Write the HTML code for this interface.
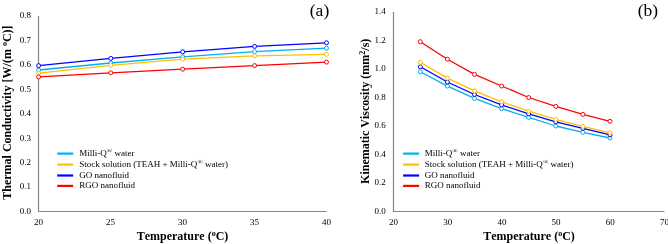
<!DOCTYPE html>
<html><head><meta charset="utf-8"><style>
html,body{margin:0;padding:0;background:#fff;width:668px;height:244px;overflow:hidden}
svg{display:block;will-change:transform} text{font-kerning:none}
</style></head><body>
<svg width="668" height="244" viewBox="0 0 668 244">
<rect width="668" height="244" fill="#fff"/>
<path d="M38.5,16 V211.5 H326.5" fill="none" stroke="#858585" stroke-width="1.2"/>
<path d="M393.5,12 V211.5 H664.5" fill="none" stroke="#858585" stroke-width="1.2"/>
<text x="31.1" y="213.8" text-anchor="end" font-family="Liberation Serif" font-size="9" fill="#000">0.0</text>
<text x="31.1" y="189.4" text-anchor="end" font-family="Liberation Serif" font-size="9" fill="#000">0.1</text>
<text x="31.1" y="164.9" text-anchor="end" font-family="Liberation Serif" font-size="9" fill="#000">0.2</text>
<text x="31.1" y="140.5" text-anchor="end" font-family="Liberation Serif" font-size="9" fill="#000">0.3</text>
<text x="31.1" y="116.0" text-anchor="end" font-family="Liberation Serif" font-size="9" fill="#000">0.4</text>
<text x="31.1" y="91.6" text-anchor="end" font-family="Liberation Serif" font-size="9" fill="#000">0.5</text>
<text x="31.1" y="67.2" text-anchor="end" font-family="Liberation Serif" font-size="9" fill="#000">0.6</text>
<text x="31.1" y="42.7" text-anchor="end" font-family="Liberation Serif" font-size="9" fill="#000">0.7</text>
<text x="31.1" y="18.3" text-anchor="end" font-family="Liberation Serif" font-size="9" fill="#000">0.8</text>
<text x="38.5" y="225" text-anchor="middle" font-family="Liberation Serif" font-size="9" fill="#000">20</text>
<text x="110.5" y="225" text-anchor="middle" font-family="Liberation Serif" font-size="9" fill="#000">25</text>
<text x="182.5" y="225" text-anchor="middle" font-family="Liberation Serif" font-size="9" fill="#000">30</text>
<text x="254.5" y="225" text-anchor="middle" font-family="Liberation Serif" font-size="9" fill="#000">35</text>
<text x="326.5" y="225" text-anchor="middle" font-family="Liberation Serif" font-size="9" fill="#000">40</text>
<text x="385.7" y="213.8" text-anchor="end" font-family="Liberation Serif" font-size="9" fill="#000">0.0</text>
<text x="385.7" y="185.3" text-anchor="end" font-family="Liberation Serif" font-size="9" fill="#000">0.2</text>
<text x="385.7" y="156.8" text-anchor="end" font-family="Liberation Serif" font-size="9" fill="#000">0.4</text>
<text x="385.7" y="128.3" text-anchor="end" font-family="Liberation Serif" font-size="9" fill="#000">0.6</text>
<text x="385.7" y="99.8" text-anchor="end" font-family="Liberation Serif" font-size="9" fill="#000">0.8</text>
<text x="385.7" y="71.3" text-anchor="end" font-family="Liberation Serif" font-size="9" fill="#000">1.0</text>
<text x="385.7" y="42.8" text-anchor="end" font-family="Liberation Serif" font-size="9" fill="#000">1.2</text>
<text x="385.7" y="14.3" text-anchor="end" font-family="Liberation Serif" font-size="9" fill="#000">1.4</text>
<text x="393.5" y="225" text-anchor="middle" font-family="Liberation Serif" font-size="9" fill="#000">20</text>
<text x="447.7" y="225" text-anchor="middle" font-family="Liberation Serif" font-size="9" fill="#000">30</text>
<text x="501.9" y="225" text-anchor="middle" font-family="Liberation Serif" font-size="9" fill="#000">40</text>
<text x="556.1" y="225" text-anchor="middle" font-family="Liberation Serif" font-size="9" fill="#000">50</text>
<text x="610.3" y="225" text-anchor="middle" font-family="Liberation Serif" font-size="9" fill="#000">60</text>
<text x="664.5" y="225" text-anchor="middle" font-family="Liberation Serif" font-size="9" fill="#000">70</text>
<polyline points="38.6,70.0 110.8,63.0 182.7,56.9 254.6,51.7 326.5,48.2" fill="none" stroke="#00B0F0" stroke-width="1.3" stroke-linejoin="round"/>
<circle cx="38.6" cy="70.0" r="2.0" fill="#fff" stroke="#00B0F0" stroke-width="1.0"/>
<circle cx="110.8" cy="63.0" r="2.0" fill="#fff" stroke="#00B0F0" stroke-width="1.0"/>
<circle cx="182.7" cy="56.9" r="2.0" fill="#fff" stroke="#00B0F0" stroke-width="1.0"/>
<circle cx="254.6" cy="51.7" r="2.0" fill="#fff" stroke="#00B0F0" stroke-width="1.0"/>
<circle cx="326.5" cy="48.2" r="2.0" fill="#fff" stroke="#00B0F0" stroke-width="1.0"/>
<polyline points="38.6,65.7 110.8,58.4 182.7,51.8 254.6,46.4 326.5,42.8" fill="none" stroke="#0000FF" stroke-width="1.3" stroke-linejoin="round"/>
<circle cx="38.6" cy="65.7" r="2.0" fill="#fff" stroke="#0000FF" stroke-width="1.0"/>
<circle cx="110.8" cy="58.4" r="2.0" fill="#fff" stroke="#0000FF" stroke-width="1.0"/>
<circle cx="182.7" cy="51.8" r="2.0" fill="#fff" stroke="#0000FF" stroke-width="1.0"/>
<circle cx="254.6" cy="46.4" r="2.0" fill="#fff" stroke="#0000FF" stroke-width="1.0"/>
<circle cx="326.5" cy="42.8" r="2.0" fill="#fff" stroke="#0000FF" stroke-width="1.0"/>
<polyline points="38.6,73.2 110.8,65.4 182.7,59.2 254.6,55.8 326.5,54.4" fill="none" stroke="#FFC000" stroke-width="1.3" stroke-linejoin="round"/>
<circle cx="38.6" cy="73.2" r="2.0" fill="#fff" stroke="#FFC000" stroke-width="1.0"/>
<circle cx="110.8" cy="65.4" r="2.0" fill="#fff" stroke="#FFC000" stroke-width="1.0"/>
<circle cx="182.7" cy="59.2" r="2.0" fill="#fff" stroke="#FFC000" stroke-width="1.0"/>
<circle cx="254.6" cy="55.8" r="2.0" fill="#fff" stroke="#FFC000" stroke-width="1.0"/>
<circle cx="326.5" cy="54.4" r="2.0" fill="#fff" stroke="#FFC000" stroke-width="1.0"/>
<polyline points="38.6,76.9 110.8,72.8 182.7,69.2 254.6,65.6 326.5,62.1" fill="none" stroke="#FF0000" stroke-width="1.3" stroke-linejoin="round"/>
<circle cx="38.6" cy="76.9" r="2.0" fill="#fff" stroke="#FF0000" stroke-width="1.0"/>
<circle cx="110.8" cy="72.8" r="2.0" fill="#fff" stroke="#FF0000" stroke-width="1.0"/>
<circle cx="182.7" cy="69.2" r="2.0" fill="#fff" stroke="#FF0000" stroke-width="1.0"/>
<circle cx="254.6" cy="65.6" r="2.0" fill="#fff" stroke="#FF0000" stroke-width="1.0"/>
<circle cx="326.5" cy="62.1" r="2.0" fill="#fff" stroke="#FF0000" stroke-width="1.0"/>
<polyline points="420.3,71.8 447.4,86.1 474.5,98.4 501.6,108.6 528.7,117.4 555.8,126.0 582.9,132.3 610.0,138.0" fill="none" stroke="#00B0F0" stroke-width="1.3" stroke-linejoin="round"/>
<circle cx="420.3" cy="71.8" r="2.0" fill="#fff" stroke="#00B0F0" stroke-width="1.0"/>
<circle cx="447.4" cy="86.1" r="2.0" fill="#fff" stroke="#00B0F0" stroke-width="1.0"/>
<circle cx="474.5" cy="98.4" r="2.0" fill="#fff" stroke="#00B0F0" stroke-width="1.0"/>
<circle cx="501.6" cy="108.6" r="2.0" fill="#fff" stroke="#00B0F0" stroke-width="1.0"/>
<circle cx="528.7" cy="117.4" r="2.0" fill="#fff" stroke="#00B0F0" stroke-width="1.0"/>
<circle cx="555.8" cy="126.0" r="2.0" fill="#fff" stroke="#00B0F0" stroke-width="1.0"/>
<circle cx="582.9" cy="132.3" r="2.0" fill="#fff" stroke="#00B0F0" stroke-width="1.0"/>
<circle cx="610.0" cy="138.0" r="2.0" fill="#fff" stroke="#00B0F0" stroke-width="1.0"/>
<polyline points="420.3,66.8 447.4,82.0 474.5,94.5 501.6,104.9 528.7,113.9 555.8,121.8 582.9,128.3 610.0,134.9" fill="none" stroke="#0000FF" stroke-width="1.3" stroke-linejoin="round"/>
<circle cx="420.3" cy="66.8" r="2.0" fill="#fff" stroke="#0000FF" stroke-width="1.0"/>
<circle cx="447.4" cy="82.0" r="2.0" fill="#fff" stroke="#0000FF" stroke-width="1.0"/>
<circle cx="474.5" cy="94.5" r="2.0" fill="#fff" stroke="#0000FF" stroke-width="1.0"/>
<circle cx="501.6" cy="104.9" r="2.0" fill="#fff" stroke="#0000FF" stroke-width="1.0"/>
<circle cx="528.7" cy="113.9" r="2.0" fill="#fff" stroke="#0000FF" stroke-width="1.0"/>
<circle cx="555.8" cy="121.8" r="2.0" fill="#fff" stroke="#0000FF" stroke-width="1.0"/>
<circle cx="582.9" cy="128.3" r="2.0" fill="#fff" stroke="#0000FF" stroke-width="1.0"/>
<circle cx="610.0" cy="134.9" r="2.0" fill="#fff" stroke="#0000FF" stroke-width="1.0"/>
<polyline points="420.3,62.3 447.4,78.1 474.5,90.8 501.6,101.8 528.7,111.2 555.8,119.4 582.9,126.3 610.0,132.8" fill="none" stroke="#FFC000" stroke-width="1.3" stroke-linejoin="round"/>
<circle cx="420.3" cy="62.3" r="2.0" fill="#fff" stroke="#FFC000" stroke-width="1.0"/>
<circle cx="447.4" cy="78.1" r="2.0" fill="#fff" stroke="#FFC000" stroke-width="1.0"/>
<circle cx="474.5" cy="90.8" r="2.0" fill="#fff" stroke="#FFC000" stroke-width="1.0"/>
<circle cx="501.6" cy="101.8" r="2.0" fill="#fff" stroke="#FFC000" stroke-width="1.0"/>
<circle cx="528.7" cy="111.2" r="2.0" fill="#fff" stroke="#FFC000" stroke-width="1.0"/>
<circle cx="555.8" cy="119.4" r="2.0" fill="#fff" stroke="#FFC000" stroke-width="1.0"/>
<circle cx="582.9" cy="126.3" r="2.0" fill="#fff" stroke="#FFC000" stroke-width="1.0"/>
<circle cx="610.0" cy="132.8" r="2.0" fill="#fff" stroke="#FFC000" stroke-width="1.0"/>
<polyline points="420.3,41.7 447.4,59.2 474.5,74.4 501.6,86.0 528.7,97.5 555.8,106.4 582.9,114.4 610.0,121.3" fill="none" stroke="#FF0000" stroke-width="1.3" stroke-linejoin="round"/>
<circle cx="420.3" cy="41.7" r="2.0" fill="#fff" stroke="#FF0000" stroke-width="1.0"/>
<circle cx="447.4" cy="59.2" r="2.0" fill="#fff" stroke="#FF0000" stroke-width="1.0"/>
<circle cx="474.5" cy="74.4" r="2.0" fill="#fff" stroke="#FF0000" stroke-width="1.0"/>
<circle cx="501.6" cy="86.0" r="2.0" fill="#fff" stroke="#FF0000" stroke-width="1.0"/>
<circle cx="528.7" cy="97.5" r="2.0" fill="#fff" stroke="#FF0000" stroke-width="1.0"/>
<circle cx="555.8" cy="106.4" r="2.0" fill="#fff" stroke="#FF0000" stroke-width="1.0"/>
<circle cx="582.9" cy="114.4" r="2.0" fill="#fff" stroke="#FF0000" stroke-width="1.0"/>
<circle cx="610.0" cy="121.3" r="2.0" fill="#fff" stroke="#FF0000" stroke-width="1.0"/>
<line x1="57.2" y1="153.6" x2="73.2" y2="153.6" stroke="#00B0F0" stroke-width="2.2"/>
<text x="79.3" y="155.79999999999998" font-family="Liberation Serif" font-size="9" fill="#000">Milli-Q<tspan font-size="7" dy="-2.6">®</tspan><tspan dy="2.6"> water</tspan></text>
<line x1="57.2" y1="164.6" x2="73.2" y2="164.6" stroke="#FFC000" stroke-width="2.2"/>
<text x="79.3" y="166.79999999999998" font-family="Liberation Serif" font-size="9" fill="#000">Stock solution (TEAH + Milli-Q<tspan font-size="7" dy="-2.6">®</tspan><tspan dy="2.6"> water)</tspan></text>
<line x1="57.2" y1="175.5" x2="73.2" y2="175.5" stroke="#0000FF" stroke-width="2.2"/>
<text x="79.3" y="177.7" font-family="Liberation Serif" font-size="9" fill="#000">GO nanofluid</text>
<line x1="57.2" y1="185.9" x2="73.2" y2="185.9" stroke="#FF0000" stroke-width="2.2"/>
<text x="79.3" y="188.1" font-family="Liberation Serif" font-size="9" fill="#000">RGO nanofluid</text>
<line x1="403.1" y1="153.6" x2="419.1" y2="153.6" stroke="#00B0F0" stroke-width="2.2"/>
<text x="424.8" y="155.79999999999998" font-family="Liberation Serif" font-size="9" fill="#000">Milli-Q<tspan font-size="7" dy="-2.6">®</tspan><tspan dy="2.6"> water</tspan></text>
<line x1="403.1" y1="164.6" x2="419.1" y2="164.6" stroke="#FFC000" stroke-width="2.2"/>
<text x="424.8" y="166.79999999999998" font-family="Liberation Serif" font-size="9" fill="#000">Stock solution (TEAH + Milli-Q<tspan font-size="7" dy="-2.6">®</tspan><tspan dy="2.6"> water)</tspan></text>
<line x1="403.1" y1="175.5" x2="419.1" y2="175.5" stroke="#0000FF" stroke-width="2.2"/>
<text x="424.8" y="177.7" font-family="Liberation Serif" font-size="9" fill="#000">GO nanofluid</text>
<line x1="403.1" y1="185.9" x2="419.1" y2="185.9" stroke="#FF0000" stroke-width="2.2"/>
<text x="424.8" y="188.1" font-family="Liberation Serif" font-size="9" fill="#000">RGO nanofluid</text>
<text x="182.5" y="240.3" text-anchor="middle" font-family="Liberation Serif" font-size="12" font-weight="bold" fill="#000">Temperature (<tspan font-size="8" dy="-4.2">o</tspan><tspan dy="4.2">C)</tspan></text>
<text x="529" y="240.3" text-anchor="middle" font-family="Liberation Serif" font-size="12" font-weight="bold" fill="#000">Temperature (<tspan font-size="8" dy="-4.2">o</tspan><tspan dy="4.2">C)</tspan></text>
<text transform="translate(11.0,112.6) rotate(-90)" text-anchor="middle" font-family="Liberation Serif" font-size="12" font-weight="bold" fill="#000">Thermal Conductivity [W/(m <tspan font-size="8" dy="-4.2">o</tspan><tspan dy="4.2">C)]</tspan></text>
<text transform="translate(368.7,111.3) rotate(-90)" text-anchor="middle" font-family="Liberation Serif" font-size="12" font-weight="bold" fill="#000">Kinematic Viscosity (mm<tspan font-size="8" dy="-3.6">2</tspan><tspan dy="3.6">/s)</tspan></text>
<text x="309.8" y="15.9" font-family="Liberation Serif" font-size="17.5" fill="#000">(a)</text>
<text x="637.8" y="15.9" font-family="Liberation Serif" font-size="17.5" fill="#000">(b)</text>
</svg>
</body></html>
